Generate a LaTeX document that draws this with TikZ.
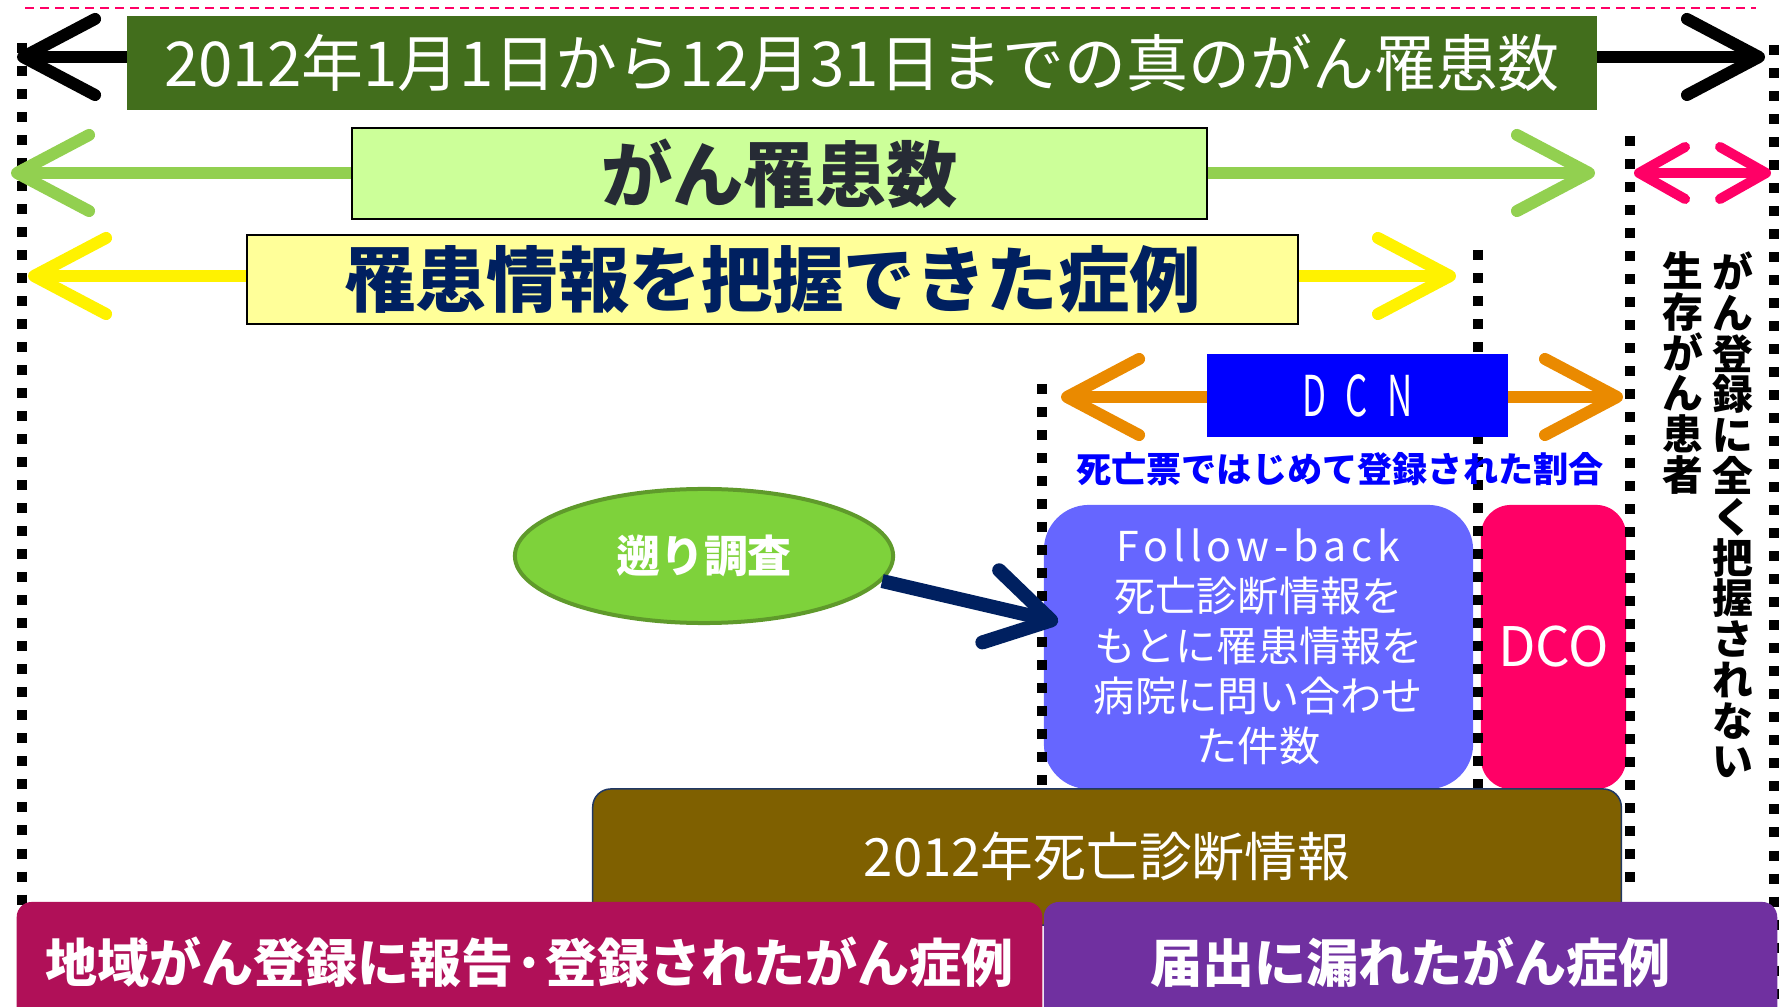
\documentclass[tikz,border=0pt]{standalone}
\usepackage{fontspec}
\setmainfont{Noto Sans CJK JP}
\usepackage{graphicx}
\usetikzlibrary{arrows.meta,shapes.geometric}
\definecolor{titlegreen}{RGB}{66,110,28}
\definecolor{casegreen}{HTML}{CCFF99}
\definecolor{arrowgreen}{HTML}{92D050}
\definecolor{caseyellow}{HTML}{FFFF99}
\definecolor{dcnorange}{HTML}{EA8A00}
\definecolor{dcopink}{HTML}{FF0066}
\definecolor{fbviolet}{HTML}{6666FF}
\definecolor{ovalgreen}{HTML}{7ED23B}
\definecolor{ovaledge}{HTML}{5F9A2B}
\definecolor{deathbrown}{HTML}{7F6000}
\definecolor{edgenavy}{HTML}{203864}
\definecolor{navy}{HTML}{002060}
\definecolor{darktext}{HTML}{262B35}
\definecolor{regmagenta}{RGB}{176,16,88}
\definecolor{misspurple}{HTML}{7030A0}
\begin{document}
\begin{tikzpicture}[x=0.01cm,y=-0.01cm,
  box/.style={inner sep=0pt,anchor=center},
  dotline/.style={line width=0.1cm,dash pattern=on 0.1cm off 0.13cm},
  spanarrow/.style={line width=0.12cm,{Straight Barb[length=0.72cm,width=0.76cm,round]}-{Straight Barb[length=0.72cm,width=0.76cm,round]}},
  jp/.style={font=\fontsize{#1}{#1}\selectfont},
  jpb/.style={font=\bfseries\fontsize{#1}{#1}\selectfont}]
\useasboundingbox (0,0) rectangle (1780,1007);
\path coordinate (PL) at (25,8)
coordinate (PR) at (1756,8)
coordinate (L1a) at (22,43) coordinate (L1b) at (22,1007)
coordinate (L2a) at (1478,250) coordinate (L2b) at (1478,789)
coordinate (L3a) at (1630,136) coordinate (L3b) at (1630,891)
coordinate (L4a) at (1774,45) coordinate (L4b) at (1774,1007)
coordinate (L5a) at (1042,384) coordinate (L5b) at (1042,789)
coordinate (AL) at (17,57) coordinate (AR) at (1765,57)
coordinate (BL) at (11,173) coordinate (BR) at (1595,173)
coordinate (CL) at (28,276) coordinate (CR) at (1456,276)
coordinate (DL) at (1061,397) coordinate (DR) at (1623,397)
coordinate (SL) at (1634,173) coordinate (SR) at (1771,173)
coordinate (FBin) at (1058,622)
;
\node[box,fill=fbviolet,rounded corners=0.45cm,minimum width=4.29cm,minimum height=2.84cm,text=white,align=center,font=\fontsize{11.7}{14.2}\selectfont] (FB) at (1258.5,647)
  {{\addfontfeature{LetterSpace=12}Follow-back}\\死亡診断情報を\\もとに罹患情報を\\病院に問い合わせ\\た件数};
\node[box,fill=dcopink,rounded corners=0.3cm,minimum width=1.45cm,minimum height=2.84cm,text=white,jp=15.5] (DCO) at (1553.5,647) {DCO};
\draw[dcopink,line width=0.02cm,dash pattern=on 0.09cm off 0.06cm] (PL) -- (PR);
\draw[dotline] (L1a) -- (L1b);
\draw[dotline] (L2a) -- (L2b);
\draw[dotline] (L3a) -- (L3b);
\draw[dotline] (L4a) -- (L4b);
\draw[dotline] (L5a) -- (L5b);
\draw[spanarrow] (AL) -- (AR);
\draw[spanarrow,arrowgreen] (BL) -- (BR);
\draw[spanarrow,yellow] (CL) -- (CR);
\draw[spanarrow,dcnorange] (DL) -- (DR);
\draw[dcopink,line width=0.10cm,{Straight Barb[length=0.46cm,width=0.52cm,round]}-{Straight Barb[length=0.46cm,width=0.52cm,round]}] (SL) -- (SR);
\node[box,fill=titlegreen,minimum width=14.70cm,minimum height=0.94cm,text=white,jp=17.6] (T) at (862,63) {2012年1月1日から12月31日までの真のがん罹患数};
\node[box,fill=casegreen,draw=black,line width=0.02cm,minimum width=8.55cm,minimum height=0.91cm,text=darktext,jpb=20.3] (G) at (779.5,173.5) {がん罹患数};
\node[box,fill=caseyellow,draw=black,line width=0.02cm,minimum width=10.51cm,minimum height=0.89cm,text=navy,jpb=20.3] (Y) at (772.5,279.5) {罹患情報を把握できた症例};
\node[box,fill=blue,minimum width=3.01cm,minimum height=0.83cm,text=white,jp=16] (DCN) at (1357.5,395.5) {\scalebox{0.62}[1]{D\hspace{0.55em}C\hspace{0.55em}N}};
\node[box,text=blue,jpb=10] (R) at (1340,469) {死亡票ではじめて登録された割合};
\node[box,ellipse,fill=ovalgreen,draw=ovaledge,line width=0.04cm,minimum width=3.78cm,minimum height=1.34cm,text=white,jpb=12.5] (E) at (704,556) {遡り調査};
\draw[navy,line width=0.14cm,-{Straight Barb[length=0.62cm,width=0.74cm,round]}] (E.-8) -- (FBin);
\node[box,fill=deathbrown,draw=edgenavy,line width=0.015cm,rounded corners=0.18cm,minimum width=10.28cm,minimum height=1.36cm,text=white,jp=15] (DI) at (1107,857) {2012年死亡診断情報};
\node[box,fill=regmagenta,rounded corners=0.15cm,minimum width=10.25cm,minimum height=1.2cm,text=white,jpb=14.8] (RC) at (529.5,962) {地域がん登録に報告·登録されたがん症例};
\node[box,fill=misspurple,rounded corners=0.15cm,minimum width=7.33cm,minimum height=1.2cm,text=white,jpb=14.8] (MC) at (1410.5,962) {届出に漏れたがん症例};
\node[inner sep=0pt,anchor=north,align=center,jpb=11.6] (V1) at (1733,251) {が\\ん\\登\\録\\に\\全\\く\\把\\握\\さ\\れ\\な\\い};
\node[inner sep=0pt,anchor=north,align=center,jpb=11.6] (V2) at (1683,251) {生\\存\\が\\ん\\患\\者};
\end{tikzpicture}
\end{document}
